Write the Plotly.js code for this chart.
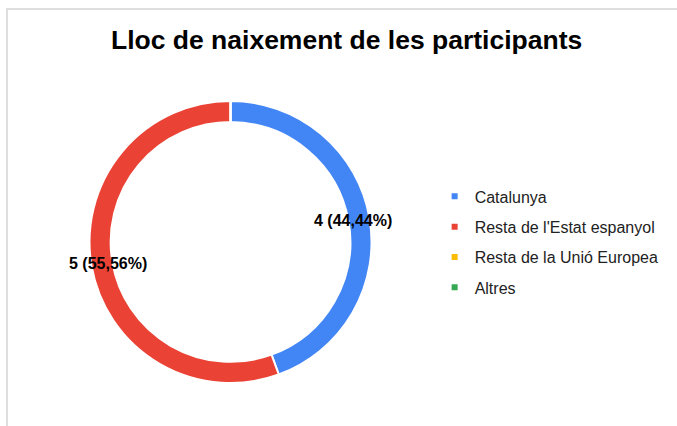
<!DOCTYPE html>
<html>
<head>
<meta charset="utf-8">
<script src="https://cdn.plot.ly/plotly-3.0.1.min.js"></script>
<style>
  html, body { margin: 0; padding: 0; background: #fff; }
  #wrap { position: relative; width: 677px; height: 426px; overflow: hidden; }
  #chart { position: absolute; left: 0; top: 0; width: 677px; height: 426px; }
  #frame { position: absolute; left: 6px; top: 8px; width: 700px; height: 430px;
           border-left: 2px solid #dedede; border-top: 2px solid #dedede; pointer-events: none; }
</style>
</head>
<body>
<div id="wrap"><div id="chart"></div><div id="frame"></div></div>
<script>
const categories = ["Catalunya", "Resta de l'Estat espanyol", "Resta de la Unió Europea", "Altres"];
const values = [4, 5, 0, 0];
const colors = ["#4285F4", "#EA4335", "#FBBC04", "#34A853"];
const chartTitle = "Lloc de naixement de les participants";

const W = 677, H = 426;
const domX = [0.1315, 0.5495], domY = [0.101, 0.763];
const holeFrac = 0.85;

const pie = {
  type: 'pie',
  labels: categories,
  values: values,
  sort: false,
  direction: 'clockwise',
  rotation: 0,
  hole: holeFrac,
  marker: { colors: colors, line: { color: '#ffffff', width: 2 } },
  textinfo: 'none',
  showlegend: false,
  hoverinfo: 'none',
  domain: { x: domX, y: domY }
};

const legendTraces = categories.map((c, i) => ({
  type: 'scatter', mode: 'markers', x: [null], y: [null],
  name: c, legendgroup: 'g' + i,
  marker: { symbol: 'square', size: 6, color: colors[i] },
  showlegend: true, hoverinfo: 'none'
}));

// slice labels placed at each slice's mid-angle on the ring
const total = values.reduce((a, b) => a + b, 0);
const cx = (domX[0] + domX[1]) / 2, cy = (domY[0] + domY[1]) / 2;
const outerR = Math.min((domX[1] - domX[0]) * W, (domY[1] - domY[0]) * H) / 2;
const labelR = outerR * 0.88;
const fmt = v => (v * 100).toFixed(2).replace('.', ',') + '%';
let cum = 0;
const annotations = [];
values.forEach((v, i) => {
  if (v > 0) {
    const mid = (cum + v / 2) / total * 2 * Math.PI;
    annotations.push({
      xref: 'paper', yref: 'paper',
      x: cx + labelR * Math.sin(mid) / W,
      y: cy + labelR * Math.cos(mid) / H,
      xanchor: 'center', yanchor: 'middle', showarrow: false,
      text: v + ' (' + fmt(v / total) + ')',
      font: { family: 'Liberation Sans, Arial, sans-serif', size: 16, color: '#000', weight: 'bold' }
    });
  }
  cum += v;
});

const layout = {
  width: W, height: H,
  margin: { l: 0, r: 0, t: 0, b: 0 },
  paper_bgcolor: '#ffffff', plot_bgcolor: '#ffffff',
  separators: ',.',
  title: {
    text: chartTitle,
    font: { family: 'Liberation Sans, Arial, sans-serif', size: 26.5, color: '#000', weight: 'bold' },
    x: 0.512, xanchor: 'center', y: 0.906, yanchor: 'middle'
  },
  xaxis: { visible: false, domain: [0.9, 1] },
  yaxis: { visible: false, domain: [0.9, 1] },
  legend: {
    x: 0.642, xanchor: 'left', y: 0.432, yanchor: 'middle',
    font: { family: 'Liberation Sans, Arial, sans-serif', size: 16, color: '#222' },
    tracegroupgap: 6.5, itemwidth: 30, bgcolor: 'rgba(0,0,0,0)'
  },
  annotations: annotations,
  showlegend: true
};

Plotly.newPlot('chart', [pie].concat(legendTraces), layout, { displayModeBar: false, staticPlot: true });
</script>
</body>
</html>
